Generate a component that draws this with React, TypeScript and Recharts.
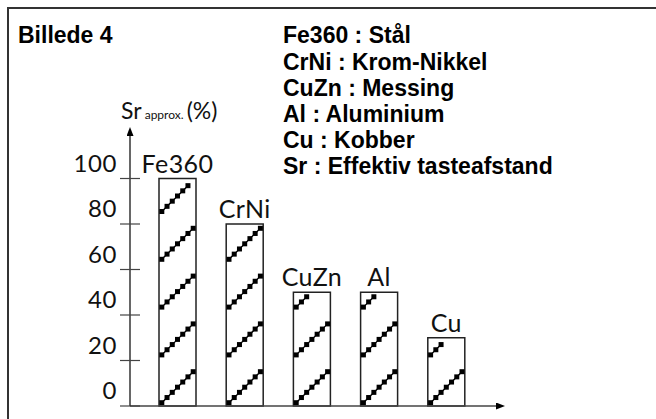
import React from "react";
import { BarChart, Bar, XAxis, YAxis, LabelList } from "recharts";

const materials = ["Fe360", "CrNi", "CuZn", "Al", "Cu"];
const srValues = [100, 80, 50, 50, 30];
const yTicks = [0, 20, 40, 60, 80, 100];
const title = "Billede 4";
const legendLines = [
  "Fe360 : Stål",
  "CrNi : Krom-Nikkel",
  "CuZn : Messing",
  "Al : Aluminium",
  "Cu : Kobber",
  "Sr : Effektiv tasteafstand",
];

const data = materials.map((name, i) => ({ name, sr: srValues[i] }));

const thinFont = "Lato, 'Open Sans', sans-serif";
const boldFont = "'Liberation Sans', Arial, sans-serif";

// hatched bar: rows of small squares rising to the right, anchored at the baseline
function HatchBar(props: any) {
  const { x, y, width, height } = props;
  if (!height || height <= 0) return null;
  const base = y + height;
  const period = 47.8;
  const rise = 31;
  const sq = 5;
  const steps = 6;
  const rows: React.ReactNode[] = [];
  for (let k = 0; ; k++) {
    const ly = base - 3.3 - k * period;
    if (ly < y) break;
    const pts: [number, number][] = [];
    for (let i = 0; i <= steps; i++) {
      const cx = x + 2.8 + (i * (width - 5.6)) / steps;
      const cy = ly - (i * rise) / steps;
      if (cy - sq / 2 >= y) pts.push([cx, cy]);
    }
    if (!pts.length) continue;
    const last = pts[pts.length - 1];
    rows.push(
      <g key={k}>
        <line x1={pts[0][0]} y1={pts[0][1]} x2={last[0]} y2={last[1]} stroke="#000" strokeWidth={1.3} />
        {pts.map(([cx, cy], i) => (
          <rect key={i} x={cx - sq / 2} y={cy - sq / 2} width={sq} height={sq} fill="#000" />
        ))}
      </g>
    );
  }
  return (
    <g>
      <rect x={x} y={y} width={width} height={height} fill="#fff" stroke="#222" strokeWidth={1.5} />
      {rows}
    </g>
  );
}

function YTick(props: any) {
  const { x, y, payload } = props;
  return (
    <g>
      <line x1={x - 10} x2={x + 10} y1={y} y2={y} stroke="#444" strokeWidth={1.2} />
      <text
        x={x - 13}
        y={y - 7}
        textAnchor="end"
        fontFamily={thinFont}
        fontWeight={400}
        fontSize={24}
        letterSpacing={0.6}
        fill="#111"
      >
        {payload.value}
      </text>
    </g>
  );
}

function BarName(props: any) {
  const { x, y, width, value } = props;
  return (
    <text
      x={x + width / 2}
      y={y - 6}
      textAnchor="middle"
      fontFamily={thinFont}
      fontWeight={400}
      fontSize={25}
      letterSpacing={0.4}
      fill="#111"
    >
      {value}
    </text>
  );
}

export default function App() {
  return (
    <div style={{ position: "absolute", left: 0, top: 0, width: 656, height: 419, background: "#fff" }}>
      <svg width={0} height={0} style={{ position: "absolute" }}>
        <defs>
          <marker
            id="axisArrow"
            markerUnits="userSpaceOnUse"
            markerWidth={9}
            markerHeight={7}
            refX={3}
            refY={3.5}
            orient="auto-start-reverse"
          >
            <path d="M0,0 L9,3.5 L0,7 z" fill="#000" />
          </marker>
        </defs>
      </svg>
      <BarChart width={656} height={419} data={data} margin={{ top: 133, right: 157, bottom: 0, left: 0 }}>
        <XAxis
          dataKey="name"
          height={13}
          tick={false}
          tickLine={false}
          padding={{ left: 14, right: 19 }}
          axisLine={{ stroke: "#444", strokeWidth: 1.5, markerEnd: "url(#axisArrow)" }}
        />
        <YAxis
          width={130}
          domain={[0, 120]}
          ticks={yTicks}
          tickSize={0}
          tickMargin={0}
          tickLine={false}
          tick={<YTick />}
          axisLine={{ stroke: "#000", strokeWidth: 1.2, markerStart: "url(#axisArrow)" }}
        />
        <Bar dataKey="sr" barSize={37} shape={<HatchBar />} isAnimationActive={false}>
          <LabelList dataKey="name" content={<BarName />} />
        </Bar>
      </BarChart>
      <svg width={656} height={419} style={{ position: "absolute", left: 0, top: 0, pointerEvents: "none" }}>
        <line x1={7} y1={8} x2={656} y2={8} stroke="#333" strokeWidth={2} />
        <line x1={8} y1={7} x2={8} y2={419} stroke="#333" strokeWidth={2} />
        <text x={18} y={43} fontFamily={boldFont} fontWeight={700} fontSize={23} fill="#000">
          {title}
        </text>
        {legendLines.map((t, i) => (
          <text key={t} x={283} y={43.3 + i * 26.2} fontFamily={boldFont} fontWeight={700} fontSize={23} fill="#000">
            {t}
          </text>
        ))}
        <text x={121} y={119} fontFamily={thinFont} fontWeight={400} fill="#111">
          <tspan fontSize={23}>Sr</tspan>
          <tspan fontSize={12}> approx. </tspan>
          <tspan fontSize={23}>(%)</tspan>
        </text>
      </svg>
    </div>
  );
}
